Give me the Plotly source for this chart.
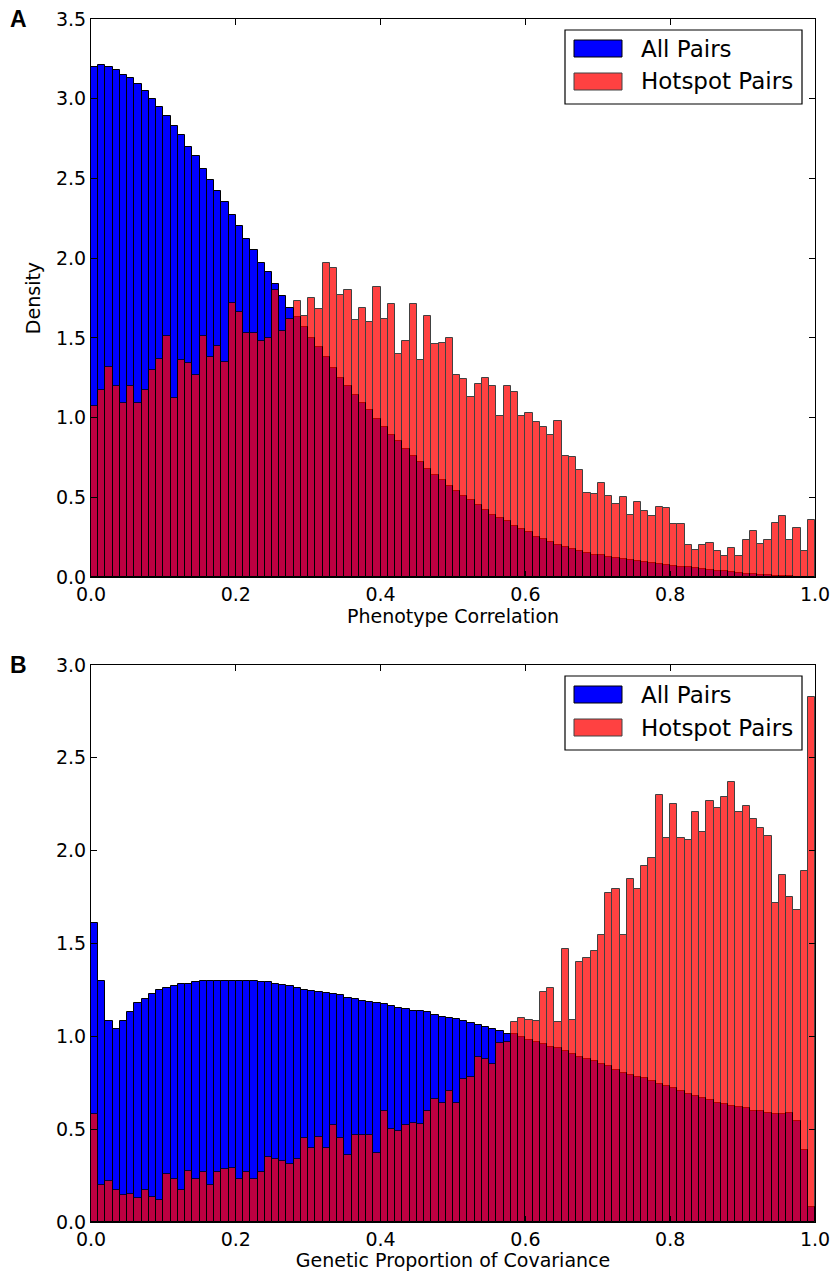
import numpy as np
import plotly.graph_objects as go

# ---------------- data (densities, 100 bins on [0,1]) ----------------
bin_edges_lo = 0.0
bin_edges_hi = 1.0
n_bins = 100

a_all_pairs = [
    3.20, 3.21, 3.20, 3.18, 3.15, 3.13, 3.09, 3.05, 3.00, 2.95,
    2.89, 2.83, 2.77, 2.70, 2.64, 2.56, 2.49, 2.42, 2.35, 2.27,
    2.20, 2.12, 2.05, 1.97, 1.91, 1.84, 1.76, 1.69, 1.63, 1.57,
    1.50, 1.44, 1.38, 1.31, 1.25, 1.20, 1.14, 1.09, 1.05, 0.99,
    0.94, 0.89, 0.85, 0.80, 0.76, 0.72, 0.68, 0.64, 0.61, 0.57,
    0.54, 0.51, 0.48, 0.45, 0.42, 0.39, 0.37, 0.35, 0.32, 0.30,
    0.28, 0.25, 0.24, 0.22, 0.20, 0.19, 0.175, 0.16, 0.15, 0.14,
    0.135, 0.125, 0.12, 0.11, 0.105, 0.10, 0.095, 0.09, 0.08, 0.075,
    0.07, 0.065, 0.06, 0.055, 0.05, 0.045, 0.04, 0.035, 0.03, 0.025,
    0.02, 0.017, 0.014, 0.011, 0.009, 0.007, 0.005, 0.003, 0.002, 0.001,
]
a_hotspot_pairs = [
    1.07, 1.17, 1.32, 1.20, 1.09, 1.20, 1.09, 1.17, 1.30, 1.37,
    1.51, 1.12, 1.36, 1.34, 1.27, 1.51, 1.38, 1.45, 1.35, 1.72,
    1.66, 1.53, 1.53, 1.48, 1.50, 1.80, 1.54, 1.62, 1.73, 1.64,
    1.75, 1.68, 1.97, 1.94, 1.77, 1.80, 1.61, 1.69, 1.60, 1.82,
    1.62, 1.71, 1.40, 1.48, 1.71, 1.36, 1.64, 1.46, 1.47, 1.50,
    1.27, 1.24, 1.13, 1.21, 1.25, 1.20, 1.01, 1.20, 1.16, 1.01,
    1.03, 0.97, 0.94, 0.89, 0.98, 0.76, 0.75, 0.67, 0.53, 0.52,
    0.59, 0.51, 0.46, 0.50, 0.39, 0.47, 0.415, 0.38, 0.44, 0.43,
    0.33, 0.33, 0.20, 0.17, 0.20, 0.215, 0.16, 0.13, 0.18, 0.13,
    0.23, 0.29, 0.21, 0.23, 0.34, 0.38, 0.235, 0.305, 0.16, 0.355,
]
b_all_pairs = [
    1.61, 1.30, 1.08, 1.04, 1.08, 1.13, 1.18, 1.20, 1.23, 1.25,
    1.26, 1.27, 1.28, 1.28, 1.29, 1.30, 1.30, 1.30, 1.30, 1.30,
    1.30, 1.30, 1.30, 1.29, 1.29, 1.28, 1.275, 1.27, 1.26, 1.25,
    1.246, 1.238, 1.232, 1.227, 1.22, 1.207, 1.20, 1.193, 1.183, 1.18,
    1.174, 1.164, 1.154, 1.145, 1.139, 1.135, 1.129, 1.115, 1.105, 1.10,
    1.096, 1.08, 1.07, 1.06, 1.05, 1.04, 1.03, 1.01, 1.01, 0.994,
    0.98, 0.97, 0.96, 0.945, 0.935, 0.92, 0.906, 0.89, 0.88, 0.865,
    0.85, 0.84, 0.82, 0.80, 0.79, 0.78, 0.773, 0.76, 0.744, 0.73,
    0.72, 0.705, 0.69, 0.68, 0.666, 0.656, 0.643, 0.637, 0.627, 0.62,
    0.613, 0.60, 0.598, 0.588, 0.584, 0.584, 0.588, 0.545, 0.39, 0.08,
]
b_hotspot_pairs = [
    0.58, 0.20, 0.22, 0.17, 0.145, 0.15, 0.13, 0.17, 0.135, 0.12,
    0.26, 0.23, 0.17, 0.275, 0.23, 0.27, 0.20, 0.27, 0.285, 0.29,
    0.23, 0.27, 0.23, 0.27, 0.35, 0.34, 0.33, 0.31, 0.34, 0.45,
    0.40, 0.46, 0.40, 0.525, 0.455, 0.36, 0.47, 0.47, 0.47, 0.37,
    0.60, 0.50, 0.49, 0.52, 0.535, 0.53, 0.60, 0.66, 0.64, 0.705,
    0.64, 0.77, 0.78, 0.89, 0.88, 0.85, 0.965, 0.97, 1.076, 1.10,
    1.09, 1.08, 1.24, 1.26, 1.076, 1.47, 1.09, 1.40, 1.42, 1.46,
    1.545, 1.77, 1.795, 1.545, 1.85, 1.795, 1.92, 1.96, 2.30, 2.07,
    2.25, 2.07, 2.06, 2.21, 2.10, 2.27, 2.23, 2.29, 2.37, 2.21,
    2.24, 2.17, 2.12, 2.08, 1.72, 1.87, 1.75, 1.68, 1.89, 2.83,
]

series_names = ["All Pairs", "Hotspot Pairs"]
panel_labels = ["A", "B"]
x_titles = ["Phenotype Correlation", "Genetic Proportion of Covariance"]
y_title = "Density"
x_ticks = [0.0, 0.2, 0.4, 0.6, 0.8, 1.0]
a_y_ticks = [0.0, 0.5, 1.0, 1.5, 2.0, 2.5, 3.0, 3.5]
b_y_ticks = [0.0, 0.5, 1.0, 1.5, 2.0, 2.5, 3.0]

# ---------------- layout helpers ----------------
W, H = 832, 1271
def px(x):
    return x / W
def py(y):
    return 1 - y / H

edges = np.linspace(bin_edges_lo, bin_edges_hi, n_bins + 1)
centers = (edges[:-1] + edges[1:]) / 2
width = edges[1] - edges[0]

BLUE = "#0000ff"
RED = "#ff0000"
RED_ALPHA = 0.74
FONT = "DejaVu Sans"

fig = go.Figure()

panels = [
    (a_all_pairs, a_hotspot_pairs, "x", "y"),
    (b_all_pairs, b_hotspot_pairs, "x2", "y2"),
]
for i, (allp, hot, xa, ya) in enumerate(panels):
    fig.add_trace(go.Bar(
        x=centers, y=allp, width=width, name=series_names[0],
        marker=dict(color=BLUE, line=dict(color="black", width=1)),
        xaxis=xa, yaxis=ya, showlegend=False,
    ))
    fig.add_trace(go.Bar(
        x=centers, y=hot, width=width, name=series_names[1],
        marker=dict(color=RED, line=dict(color="black", width=1)),
        opacity=RED_ALPHA,
        xaxis=xa, yaxis=ya, showlegend=False,
    ))

# plot-area pixel boxes
left, right = 91, 815
a_top, a_bot = 19, 577
b_top, b_bot = 665, 1222

axis_common = dict(
    showline=True, linecolor="black", linewidth=1, mirror="ticks",
    ticks="inside", ticklen=6, tickcolor="black", tickwidth=1,
    showgrid=False, zeroline=False, automargin=False,
    tickfont=dict(family=FONT, size=19, color="black"),
)

fig.update_layout(
    width=W, height=H,
    margin=dict(l=0, r=0, t=0, b=0),
    paper_bgcolor="white", plot_bgcolor="white",
    barmode="overlay", bargap=0,
    showlegend=False,
    xaxis=dict(domain=[px(left), px(right)], range=[0, 1], anchor="y",
               tickvals=x_ticks, tickformat=".1f",
               title=dict(text=x_titles[0], font=dict(family=FONT, size=19, color="black"), standoff=2),
               **axis_common),
    yaxis=dict(domain=[py(a_bot), py(a_top)], range=[0, 3.5], anchor="x",
               tickvals=a_y_ticks, tickformat=".1f",
               title=dict(text=y_title, font=dict(family=FONT, size=19, color="black"), standoff=10),
               **axis_common),
    xaxis2=dict(domain=[px(left), px(right)], range=[0, 1], anchor="y2",
                tickvals=x_ticks, tickformat=".1f",
                title=dict(text=x_titles[1], font=dict(family=FONT, size=19, color="black"), standoff=2),
                **axis_common),
    yaxis2=dict(domain=[py(b_bot), py(b_top)], range=[0, 3.0], anchor="x2",
                tickvals=b_y_ticks, tickformat=".1f",
                **axis_common),
)

shapes = []
annotations = []
for top, label in [(a_top, panel_labels[0]), (b_top, panel_labels[1])]:
    # panel letter
    annotations.append(dict(
        x=px(8), y=py(top), xref="paper", yref="paper",
        text="<b>%s</b>" % label, showarrow=False,
        xanchor="left", yanchor="middle",
        font=dict(family="Liberation Sans", size=23, color="black"),
    ))
    # legend box
    ltop = top + 11
    shapes.append(dict(type="rect", xref="paper", yref="paper",
                       x0=px(565), x1=px(802), y0=py(ltop), y1=py(ltop + 74),
                       line=dict(color="black", width=1.2), fillcolor="white", layer="above"))
    rows = [(ltop + 18.5, BLUE, "black", 1.0, series_names[0]),
            (ltop + 51.5, RED, "black", RED_ALPHA, series_names[1])]
    for cy, col, lcol, op, name in rows:
        shapes.append(dict(type="rect", xref="paper", yref="paper",
                           x0=px(574), x1=px(622), y0=py(cy - 8.5), y1=py(cy + 8.5),
                           line=dict(color=lcol, width=1), fillcolor=col,
                           opacity=op, layer="above"))
        annotations.append(dict(
            x=px(639), y=py(cy), xref="paper", yref="paper",
            text=name, showarrow=False, xanchor="left", yanchor="middle",
            font=dict(family=FONT, size=23, color="black"),
        ))

fig.update_layout(shapes=shapes, annotations=annotations)

fig.write_html(
    "out.html",
    config={"displayModeBar": False},
    post_script="document.body.style.margin='0';document.body.style.overflow='hidden';",
)
